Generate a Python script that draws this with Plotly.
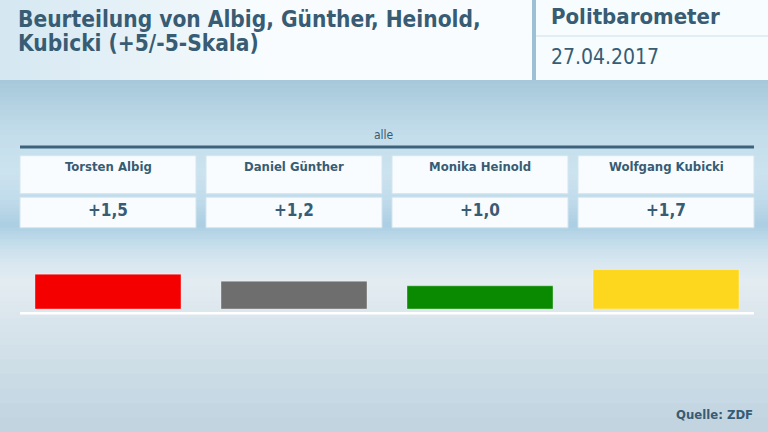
import plotly.graph_objects as go

# data
candidates = ["Torsten Albig", "Daniel Günther", "Monika Heinold", "Wolfgang Kubicki"]
ratings = [1.5, 1.2, 1.0, 1.7]
bar_colors = ["#f40000", "#6e6e6e", "#0a8a00", "#fdd71e"]
group_label = "alle"
title_lines = ["Beurteilung von Albig, Günther, Heinold,", "Kubicki (+5/-5-Skala)"]
brand = "Politbarometer"
date = "27.04.2017"
source = "Quelle: ZDF"

W, H = 768, 432
FONT = "DejaVu Sans Condensed, Liberation Sans Narrow, sans-serif"
TXT = "#385c74"


def py(y):
    """pixel row from top -> paper y"""
    return 1 - y / H


def px(x):
    return x / W


def hexrgb(h):
    h = h.lstrip("#")
    return [int(h[i:i + 2], 16) for i in (0, 2, 4)]


def mix(c1, c2, t):
    a, b = hexrgb(c1), hexrgb(c2)
    return "rgb(%d,%d,%d)" % tuple(round(a[i] + (b[i] - a[i]) * t) for i in range(3))


def bands(stops, n_per=6):
    """vertical gradient as thin rectangles (stops: pixel y, colour)"""
    out = []
    for (y0, c0), (y1, c1) in zip(stops[:-1], stops[1:]):
        step = (y1 - y0) / n_per
        for k in range(n_per):
            a = y0 + k * step
            out.append(dict(type="rect", xref="paper", yref="paper", layer="below",
                            x0=0, x1=1, y0=py(a + step + 0.6), y1=py(a),
                            fillcolor=mix(c0, c1, (k + 0.5) / n_per), line_width=0))
    return out


shapes = bands([
    (80, "#a5c7d9"), (105, "#b4d2e2"), (135, "#c4ddeb"), (175, "#cce3ef"),
    (205, "#bdd9e9"), (225, "#abcee2"), (242, "#c2dcea"), (262, "#d8e7f0"),
    (282, "#e3ecf1"), (305, "#dee8ee"), (345, "#d3e1ea"), (432, "#bfd3df"),
])

# header, left panel with a soft horizontal gradient
shapes.append(dict(type="rect", xref="paper", yref="paper", layer="below",
                   x0=0, x1=px(532), y0=py(80), y1=1, fillcolor="#f8fcfe", line_width=0))
for k in range(26):
    x0 = k * 10
    shapes.append(dict(type="rect", xref="paper", yref="paper", layer="below",
                       x0=px(x0), x1=px(x0 + 10.5), y0=py(80), y1=1,
                       fillcolor=mix("#d4e7f1", "#f8fcfe", (k + 0.5) / 26), line_width=0))
# header, right panel
shapes.append(dict(type="rect", xref="paper", yref="paper", layer="below",
                   x0=px(536), x1=1, y0=py(80), y1=1, fillcolor="#f7fcfe", line_width=0))
shapes.append(dict(type="rect", xref="paper", yref="paper", layer="below",
                   x0=px(532), x1=px(536), y0=py(80), y1=1, fillcolor="#9cc1d5", line_width=0))
shapes.append(dict(type="line", xref="paper", yref="paper", layer="below",
                   x0=px(536), x1=1, y0=py(36), y1=py(36), line=dict(color="#e2eef4", width=2)))

# dark rule under the group label and white baseline under the bars
shapes.append(dict(type="line", xref="x", yref="paper", layer="below",
                   x0=-0.473, x1=3.473, y0=py(147), y1=py(147),
                   line=dict(color="#3d627c", width=3)))
shapes.append(dict(type="line", xref="x", yref="paper", layer="below",
                   x0=-0.473, x1=3.473, y0=py(313.3), y1=py(313.3),
                   line=dict(color="#ffffff", width=2.5)))

# name and value boxes per candidate
for i in range(len(candidates)):
    for top, bot in [(155.7, 193.7), (197.2, 227.7)]:
        shapes.append(dict(type="rect", xref="x", yref="paper", layer="below",
                           x0=i - 0.473, x1=i + 0.473, y0=py(bot), y1=py(top),
                           fillcolor="#f8fcfe", line=dict(color="#d4e6f0", width=1)))

annotations = [
    dict(text="<b>%s</b>" % title_lines[0], x=px(16), y=py(18.5)),
    dict(text="<b>%s</b>" % title_lines[1], x=px(16), y=py(43.5)),
    dict(text="<b>%s</b>" % brand, x=px(549), y=py(16.5), size=22),
    dict(text=date, x=px(549), y=py(57), size=21),
]
annotations = [dict(xref="paper", yref="paper", showarrow=False, xanchor="left",
                    yanchor="middle", text=a["text"], x=a["x"], y=a["y"],
                    font=dict(family=FONT, size=a.get("size", 22.5), color=TXT))
               for a in annotations]

annotations.append(dict(xref="paper", yref="paper", x=0.5, y=py(135), text=group_label,
                        showarrow=False, yanchor="middle",
                        font=dict(family=FONT, size=12, color=TXT)))
annotations.append(dict(xref="paper", yref="paper", x=px(755), y=py(414.5),
                        text="<b>%s</b>" % source, showarrow=False, xanchor="right",
                        yanchor="middle", font=dict(family=FONT, size=13, color=TXT)))

for name, v in zip(candidates, ratings):
    annotations.append(dict(xref="x", yref="paper", x=name, y=py(166), text="<b>%s</b>" % name,
                            showarrow=False, yanchor="middle",
                            font=dict(family=FONT, size=13, color=TXT)))
    label = ("+%.1f" % v).replace(".", ",")
    annotations.append(dict(xref="x", yref="paper", x=name, y=py(210), text="<b>%s</b>" % label,
                            showarrow=False, yanchor="middle",
                            font=dict(family=FONT, size=17, color=TXT)))

fig = go.Figure(go.Bar(
    x=candidates, y=ratings, width=0.785,
    marker=dict(color=bar_colors, line=dict(color="rgba(255,255,255,0.35)", width=1)),
    hoverinfo="x+y",
))

fig.update_layout(
    width=W, height=H,
    margin=dict(l=0, r=0, t=0, b=0),
    paper_bgcolor="#c8dce7",
    plot_bgcolor="rgba(0,0,0,0)",
    showlegend=False,
    shapes=shapes,
    annotations=annotations,
    xaxis=dict(domain=[15 / W, 759 / W], range=[-0.5, 3.5], visible=False, fixedrange=True),
    yaxis=dict(domain=[py(309), py(240)], range=[0, 69 / 23.2], visible=False, fixedrange=True),
)

# the page body has a default margin; drop it so the figure fills the window
fig.write_html("out.html", config={"displayModeBar": False},
               post_script="document.body.style.margin='0';document.body.style.overflow='hidden';")
